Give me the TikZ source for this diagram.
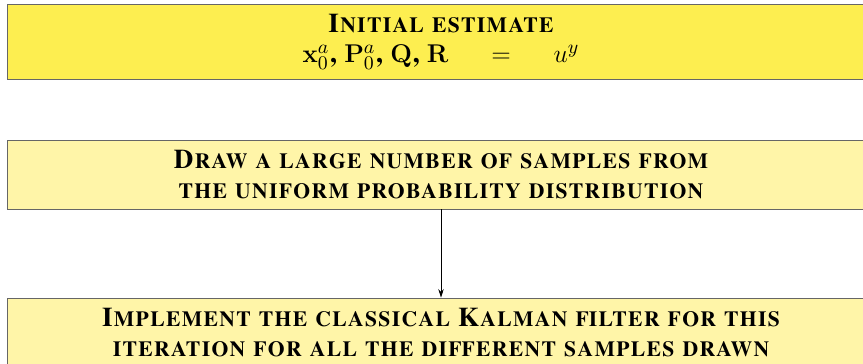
\documentclass[tikz,border=0pt]{standalone}
\usepackage[T1]{fontenc}
\usepackage{times}
\usetikzlibrary{shadows,arrows.meta}
\definecolor{boxA}{RGB}{253,238,80}
\definecolor{boxB}{RGB}{255,245,168}
\begin{document}
\begin{tikzpicture}[x=0.4675pt,y=-0.4675pt,
  box/.style={draw=black!60, line width=0.4pt, minimum width=405.8pt, align=center,
    inner sep=0pt,
    font=\fontsize{12.65}{14}\selectfont\bfseries\scshape,
    drop shadow={shadow xshift=0.6pt, shadow yshift=-0.6pt, opacity=1, fill=black}},
  conn/.style={-{Stealth[length=4pt,width=2.6pt]}, line width=0.4pt}]
\clip (0,0) rectangle (863,363);
\node[box, fill=boxA, minimum height=35.06pt] (init) at (441,41.5)
  {Initial estimate\\
   $\mathbf{x}_0^a$, $\mathbf{P}_0^a$, $\mathbf{Q}$, $\mathbf{R}$\hspace{20pt}$=$\hspace{20pt}$u^y$};
\node[box, fill=boxB, minimum height=32.26pt] (draw) at (441,174.5)
  {Draw a large number of samples from\\ the uniform probability distribution};
\node[box, fill=boxB, minimum height=32.26pt] (kal) at (441,332.5)
  {Implement the classical Kalman filter for this\\ iteration for all the different samples drawn};
\draw[conn] (draw.south) -- (kal.north);
\end{tikzpicture}
\end{document}
